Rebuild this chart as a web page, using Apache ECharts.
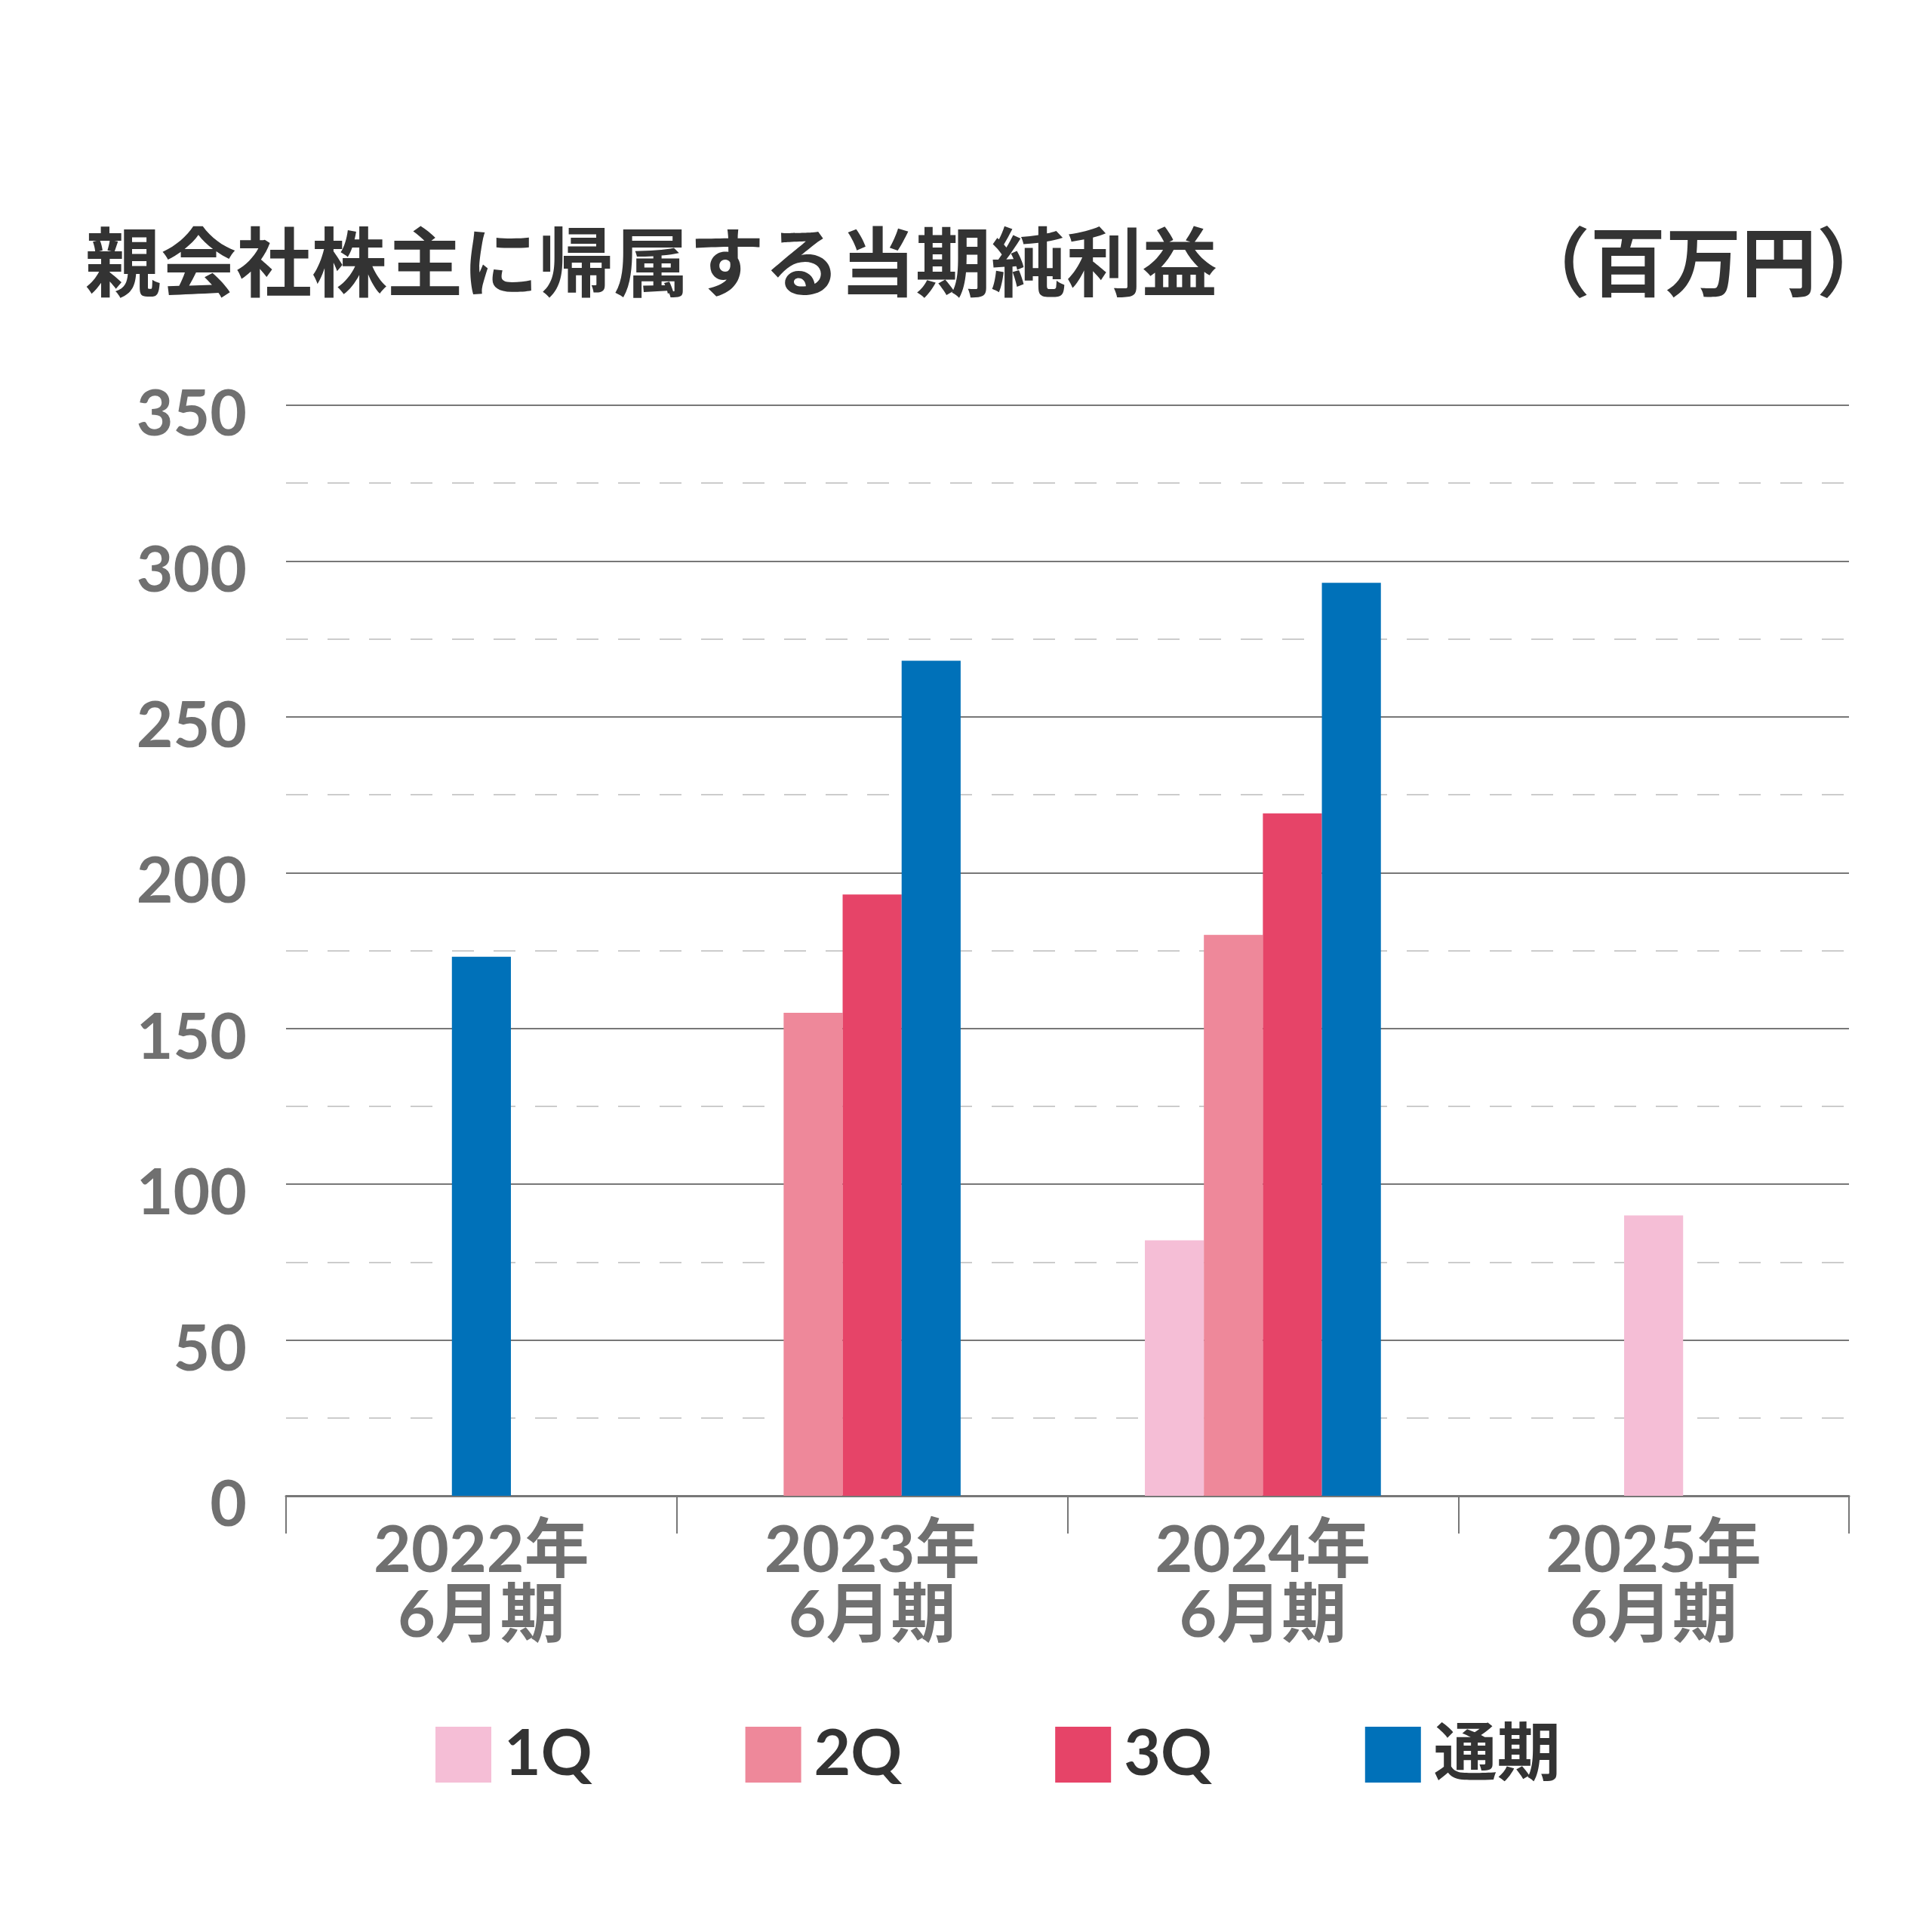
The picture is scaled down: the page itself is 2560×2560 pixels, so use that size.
<!DOCTYPE html>
<html>
<head>
<meta charset="utf-8">
<script src="https://cdn.jsdelivr.net/npm/echarts@6/dist/echarts.min.js"></script>
<style>
html,body{margin:0;padding:0;background:#fff;}
#chart{width:2560px;height:2560px;}
</style>
</head>
<body>
<div id="chart"></div>
<script>
// ---- data ----
const categories = ['2022年\n6月期', '2023年\n6月期', '2024年\n6月期', '2025年\n6月期'];
const seriesNames = ['1Q', '2Q', '3Q', '通期'];
const q1Values = [null, null, 82, 90];
const q2Values = [null, 155, 180, null];
const q3Values = [null, 193, 219, null];
const fullYearValues = [173, 268, 293, null];
const yTicks = [0, 50, 100, 150, 200, 250, 300, 350];
const titleText = '親会社株主に帰属する当期純利益';
const unitText = '（百万円）';

const allValues = [q1Values, q2Values, q3Values, fullYearValues];
const colors = ['#F5BED6', '#EE889A', '#E64468', '#0071B9'];

const chart = echarts.init(document.getElementById('chart'), null, {renderer: 'canvas'});

function makeRender(sIdx) {
  return function (params, api) {
    const ci = api.value(0);
    const v = api.value(1);
    const present = [];
    allValues.forEach((arr, i) => { if (arr[ci] != null) present.push(i); });
    const n = present.length;
    const k = present.indexOf(sIdx);
    const bandW = api.size([1, 0])[0];
    const barW = bandW * 0.151;
    const base = api.coord([ci, 0]);
    const top = api.coord([ci, v]);
    const x0 = base[0] - n * barW / 2 + k * barW;
    return {
      type: 'rect',
      shape: {x: x0, y: top[1], width: barW, height: base[1] - top[1]},
      style: {fill: colors[sIdx]}
    };
  };
}

const series = allValues.map((arr, i) => ({
  name: seriesNames[i],
  type: 'custom',
  renderItem: makeRender(i),
  itemStyle: {color: colors[i]},
  encode: {x: 0, y: 1},
  data: arr.map((v, ci) => v == null ? null : [ci, v]).filter(d => d != null),
  z: 3
}));

const numFont = "Lato, 'Noto Sans CJK JP', sans-serif";
const cjkFont = "'Noto Sans CJK JP', sans-serif";

chart.setOption({
  backgroundColor: '#ffffff',
  animation: false,
  title: [
    {
      text: titleText,
      left: 108, top: 292,
      textStyle: {fontFamily: cjkFont, fontWeight: 'bold', fontSize: 100, color: '#333333'}
    },
    {
      text: unitText,
      right: 48, top: 292,
      textStyle: {fontFamily: cjkFont, fontWeight: 'bold', fontSize: 100, color: '#333333'}
    }
  ],
  legend: {
    data: seriesNames,
    left: 572, top: 2278,
    icon: 'rect',
    itemWidth: 74, itemHeight: 74,
    itemGap: 203,
    textStyle: {fontFamily: numFont, fontWeight: 'bold', fontSize: 84, color: '#333333', padding: [0, 0, 0, 12]}
  },
  grid: {left: 379, right: 110, top: 537, bottom: 578, containLabel: false},
  xAxis: {
    type: 'category',
    data: categories,
    boundaryGap: true,
    axisLine: {show: true, lineStyle: {color: '#777777', width: 3}},
    axisTick: {show: true, length: 50, alignWithLabel: false, lineStyle: {color: '#777777', width: 2}},
    axisLabel: {
      margin: 30,
      fontFamily: numFont, fontWeight: 'bold', fontSize: 86, lineHeight: 86,
      color: '#707070'
    },
    splitLine: {show: false}
  },
  yAxis: {
    type: 'value',
    min: yTicks[0], max: yTicks[yTicks.length - 1], interval: 50,
    axisLine: {show: false},
    axisTick: {show: false},
    axisLabel: {
      margin: 52,
      formatter: '{v|{value}}',
      rich: {v: {padding: [26, 0, 0, 0], fontFamily: numFont, fontWeight: 'bold', fontSize: 84, color: '#707070'}},
      fontFamily: numFont, fontWeight: 'bold', fontSize: 84, color: '#707070'
    },
    splitLine: {show: true, lineStyle: {color: '#777777', width: 2}},
    minorTick: {show: false, splitNumber: 2},
    minorSplitLine: {show: true, lineStyle: {color: '#cccccc', width: 2, type: [29, 26]}}
  },
  series: series
});
</script>
</body>
</html>
